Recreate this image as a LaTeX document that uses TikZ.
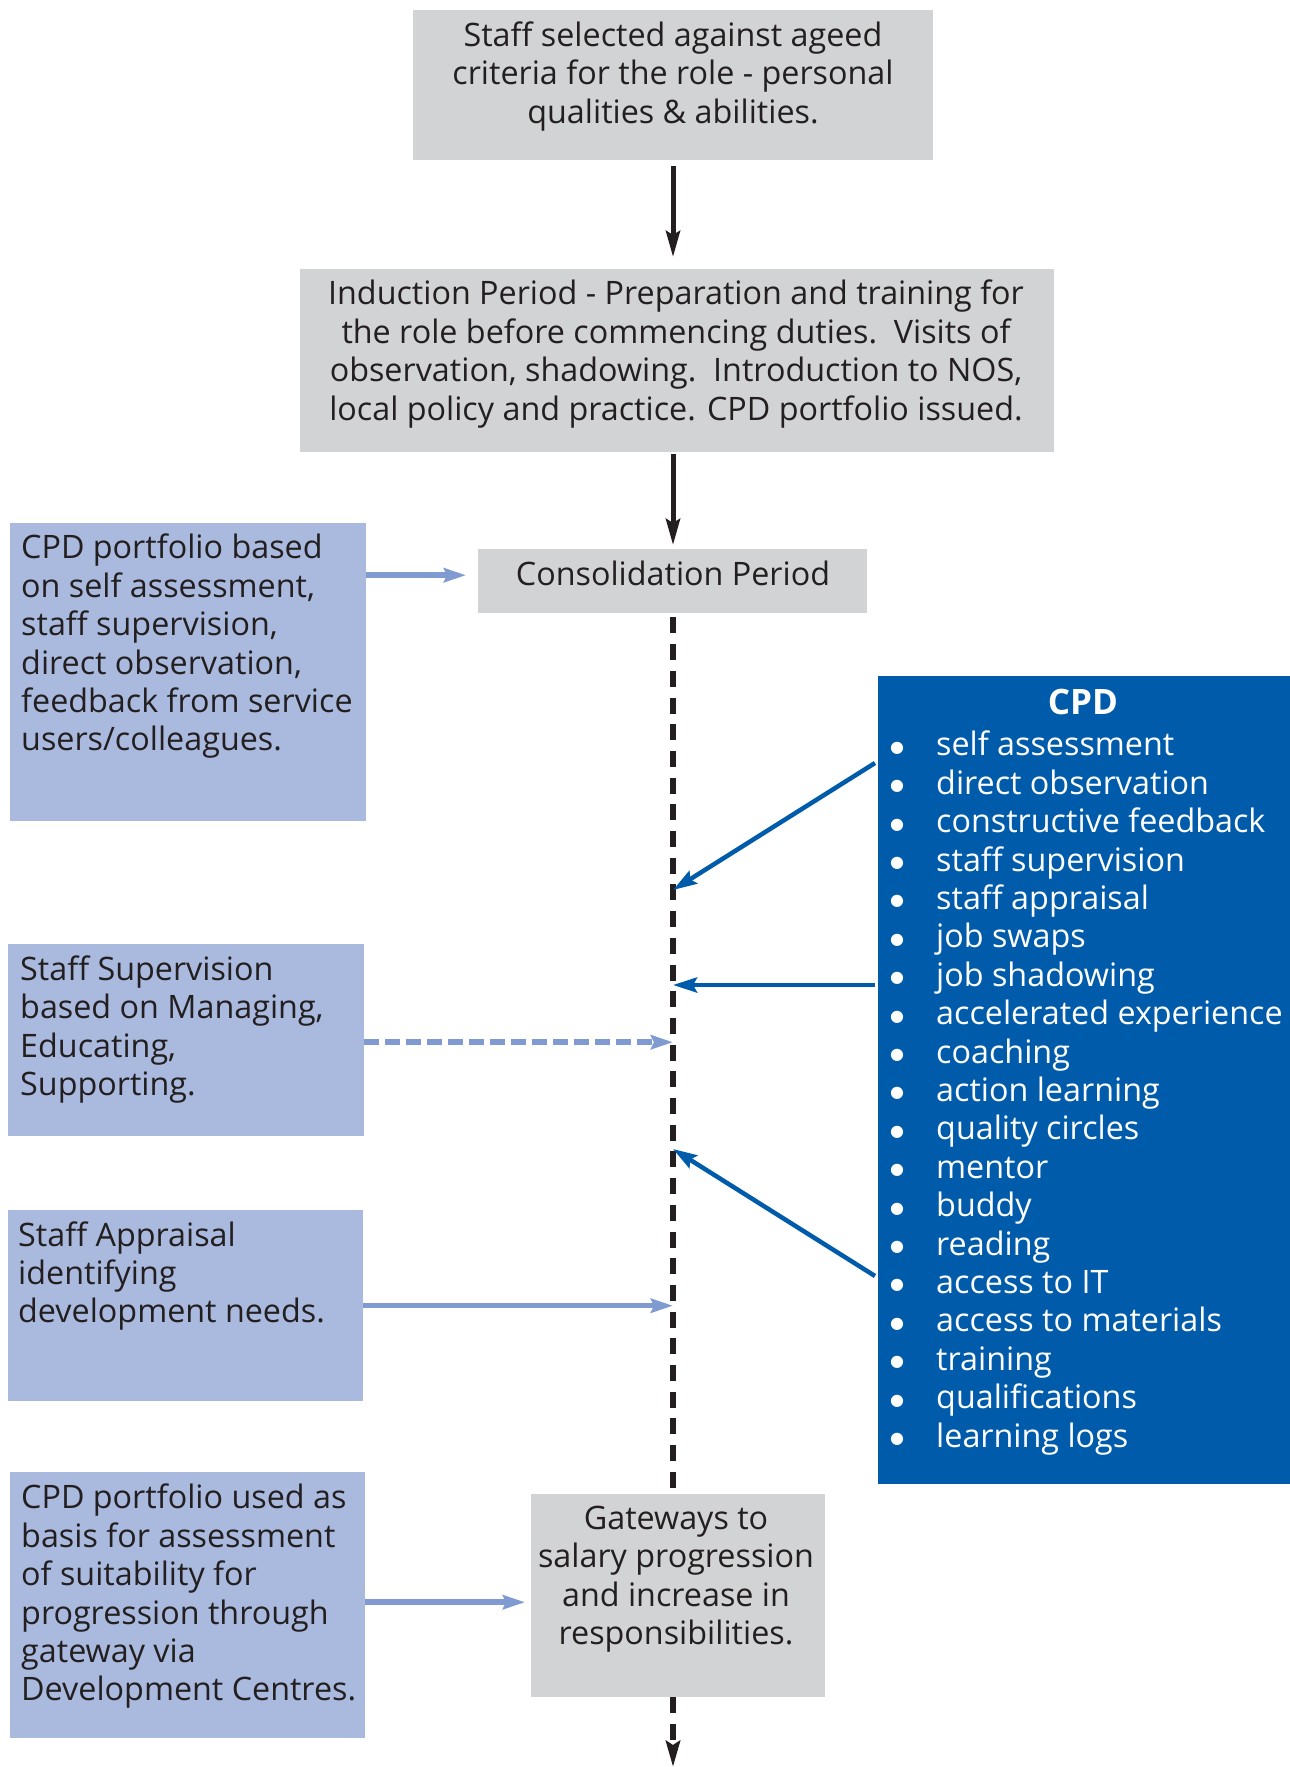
\documentclass[tikz,border=0pt]{standalone}
\usepackage{fontspec}
\setmainfont{Open Sans}
\newfontfamily\dejavu{DejaVu Sans}
\usetikzlibrary{arrows.meta,calc}
\definecolor{boxgray}{HTML}{D1D3D4}
\definecolor{lightblue}{HTML}{AABADF}
\definecolor{arrowblue}{HTML}{7F9BD2}
\definecolor{cpdblue}{HTML}{005CAB}
\definecolor{ink}{HTML}{231F20}
\tikzset{
  graybox/.style={fill=boxgray, draw=none, inner sep=0pt, anchor=north west},
  lbbox/.style={fill=lightblue, draw=none, inner sep=0pt, anchor=north west},
  cpdbox/.style={fill=cpdblue, draw=none, inner sep=0pt, anchor=north west},
  txt/.style={text=ink, inner sep=0pt, font=\fontsize{32.3}{38.4}\selectfont},
  ctxt/.style={txt, align=center},
  ltxt/.style={txt, align=left, anchor=west},
  blkarrow/.style={draw=ink, line width=5pt, -{Stealth[length=26pt,width=14pt,inset=4pt]}},
  spine/.style={draw=ink, line width=5.3pt, dash pattern=on 16pt off 10.7pt},
  lbarrow/.style={draw=arrowblue, line width=5.5pt, -{Stealth[length=22pt,width=14pt,inset=3pt]}},
  cpdarrow/.style={draw=cpdblue, line width=4.5pt, -{Stealth[length=24pt,width=15pt,inset=4pt]}},
}
\newcommand{\itm}{\makebox[46pt][l]{\raisebox{3.5pt}{\dejavu\fontsize{16}{16}\selectfont ●}}}
\begin{document}
\begin{tikzpicture}[x=1pt,y=-1pt]
\useasboundingbox (0,0) rectangle (1290,1767);

% main column boxes
\node[graybox, minimum width=520pt, minimum height=150pt] (b1) at (413,10) {};
\node[ctxt] (b1t) at (673,76.5) {Staff selected against ageed\\criteria for the role - personal\\qualities \& abilities.};

\node[graybox, minimum width=754pt, minimum height=183pt] (b2) at (300,269) {};
\node[ctxt] (b2t) at (676,354) {Induction Period - Preparation and training for\\the role before commencing duties.\ \ Visits of\\observation, shadowing.\ \ Introduction to NOS,\\local policy and practice. CPD portfolio issued.};

\node[graybox, minimum width=389pt, minimum height=64pt] (cons) at (478,549) {};
\node[ctxt] (const) at (673,573) {Consolidation Period};

\node[graybox, minimum width=294pt, minimum height=203pt] (gate) at (531,1494) {};
\node[ctxt] (gatet) at (676,1579) {Gateways to\\salary progression\\and increase in\\responsibilities.};

% left boxes
\node[lbbox, minimum width=356pt, minimum height=298pt] (l1) at (10,523) {};
\node[ltxt] (l1t) at (21,646.5) {CPD portfolio based\\on self assessment,\\staff supervision,\\direct observation,\\feedback from service\\users/colleagues.};

\node[lbbox, minimum width=356pt, minimum height=192pt] (l2) at (8,944) {};
\node[ltxt] (l2t) at (20,1029.5) {Staff Supervision\\based on Managing,\\Educating,\\Supporting.};

\node[lbbox, minimum width=355pt, minimum height=191pt] (l3) at (8,1210) {};
\node[ltxt] (l3t) at (18,1276) {Staff Appraisal\\identifying\\development needs.};

\node[lbbox, minimum width=355pt, minimum height=266pt] (l4) at (10,1472) {};
\node[ltxt] (l4t) at (21,1596.5) {CPD portfolio used as\\basis for assessment\\of suitability for\\progression through\\gateway via\\Development Centres.};

% CPD box
\node[cpdbox, minimum width=412pt, minimum height=808pt] (cpd) at (878,676) {};
\node[txt, text=white, font=\fontsize{35}{38.4}\bfseries\selectfont] (cpdt) at (1083,702) {CPD};
\node[txt, text=white, align=left, anchor=west] (cpdl) at (890,1093) {%
\itm self assessment\\
\itm direct observation\\
\itm constructive feedback\\
\itm staff supervision\\
\itm staff appraisal\\
\itm job swaps\\
\itm job shadowing\\
\itm accelerated experience\\
\itm coaching\\
\itm action learning\\
\itm quality circles\\
\itm mentor\\
\itm buddy\\
\itm reading\\
\itm access to IT\\
\itm access to materials\\
\itm training\\
\itm qualifications\\
\itm learning logs};

% coordinates on the spine and ends
\coordinate (s1) at (673,890);
\coordinate (s2) at (673,985);
\coordinate (s3) at (673,1149);
\coordinate (c1) at (875,763);
\coordinate (c2) at (875,985);
\coordinate (c3) at (875,1276);
\coordinate (bottom) at (673,1767);

% main flow
\draw[blkarrow, shorten <=6pt, shorten >=12pt] (b1.south -| const.center) -- (b2.north -| const.center);
\draw[blkarrow, shorten <=2pt, shorten >=4pt] (b2.south -| const.center) -- (cons.north -| const.center);
\draw[spine, shorten <=4pt] (cons.south -| const.center) -- (gate.north -| const.center);
\draw[spine, -{Stealth[length=26pt,width=14pt,inset=4pt]}] (gate.south -| const.center) -- (bottom);

% left arrows
\draw[lbarrow, shorten >=12pt] ([yshift=6pt]cons.west -| l1.east) -- ([yshift=6pt]cons.west);
\draw[lbarrow, dash pattern=on 15pt off 6pt] ([yshift=-2pt]l2.east) -- ([yshift=-2pt]l2.east -| const.center);
\draw[lbarrow] (l3.east) -- (l3.east -| const.center);
\draw[lbarrow, shorten >=6pt] ([yshift=3pt]l4.east) -- ([yshift=3pt]l4.east -| gate.west);

% CPD arrows
\draw[cpdarrow] (c1) -- (s1);
\draw[cpdarrow] (c2) -- (s2);
\draw[cpdarrow] (c3) -- (s3);
\end{tikzpicture}
\end{document}
